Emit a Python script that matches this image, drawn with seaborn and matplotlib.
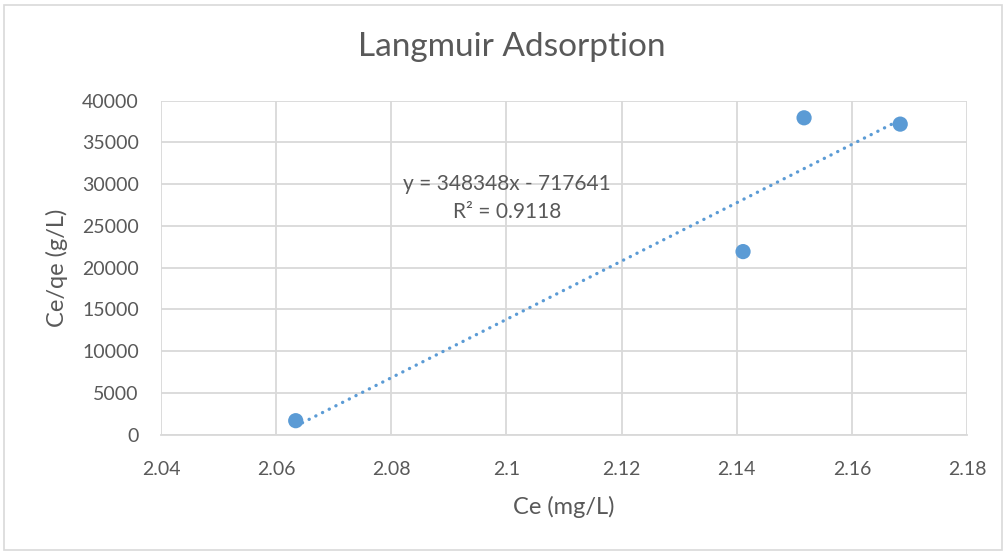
import numpy as np
import pandas as pd
import matplotlib.pyplot as plt
import matplotlib.patches as patches
import seaborn as sns

# values
ce = [2.0634, 2.1411, 2.1517, 2.1684]
ce_qe = [1655, 21918, 37950, 37194]
x_ticks = [2.04, 2.06, 2.08, 2.1, 2.12, 2.14, 2.16, 2.18]
x_tick_labels = ['2.04', '2.06', '2.08', '2.1', '2.12', '2.14', '2.16', '2.18']
y_ticks = [0, 5000, 10000, 15000, 20000, 25000, 30000, 35000, 40000]
eq_text = 'y = 348348x - 717641\nR² = 0.9118'

blue = '#5B9BD5'
grey_txt = '#595959'
grid_col = '#D9D9D9'

sns.set_style('white')
plt.rcParams['font.family'] = ['Lato', 'DejaVu Sans']

df = pd.DataFrame({'Ce': ce, 'CeQe': ce_qe})

fig = plt.figure(figsize=(10.07, 5.54), dpi=100)
ax = fig.add_axes([161 / 1007, 1 - 434.5 / 554, (967 - 161) / 1007, (434.5 - 100.7) / 554])

# linear trendline over the data range (Excel style)
slope, intercept = np.polyfit(df['Ce'], df['CeQe'], 1)
xs = np.array([df['Ce'].min(), df['Ce'].max()])
ax.plot(xs, slope * xs + intercept, color=blue, linewidth=2.4,
        linestyle=(0, (0.05, 2.2)), dash_capstyle='round', zorder=2)

sns.scatterplot(data=df, x='Ce', y='CeQe', ax=ax, color=blue, s=120,
                edgecolor='none', zorder=3)

ax.set_xlim(2.04, 2.18)
ax.set_ylim(0, 40000)
ax.set_xticks(x_ticks)
ax.set_xticklabels(x_tick_labels)
ax.set_yticks(y_ticks)
ax.grid(True, color=grid_col, linewidth=1.3)
ax.set_axisbelow(True)
for side in ['left', 'right', 'top']:
    ax.spines[side].set_visible(False)
ax.spines['bottom'].set_color(grid_col)
ax.spines['bottom'].set_linewidth(1.3)
ax.tick_params(axis='both', length=0, labelsize=14, colors=grey_txt)
ax.tick_params(axis='x', pad=19)
ax.tick_params(axis='y', pad=16)

ax.set_xlabel('Ce (mg/L)', fontsize=17, color=grey_txt, va='center')
ax.set_ylabel('Ce/qe (g/L)', fontsize=17, color=grey_txt, va='center')
ax.xaxis.set_label_coords(0.5, -(507 - 434.5) / 333.8)
ax.yaxis.set_label_coords((57 - 161) / 806, 0.5)
fig.text(512 / 1007, 1 - 47 / 554, 'Langmuir Adsorption', fontsize=24,
         color=grey_txt, ha='center', va='center')

ax.text(2.1001, 28350, eq_text, fontsize=15, color=grey_txt,
        ha='center', va='center', linespacing=1.45)

# chart area border
fig.patches.append(patches.Rectangle((4 / 1007, 4 / 554), 998 / 1007, 545 / 554,
                                     transform=fig.transFigure, fill=False,
                                     edgecolor=grid_col, linewidth=1.2))

fig.savefig('out.png', dpi=100)
